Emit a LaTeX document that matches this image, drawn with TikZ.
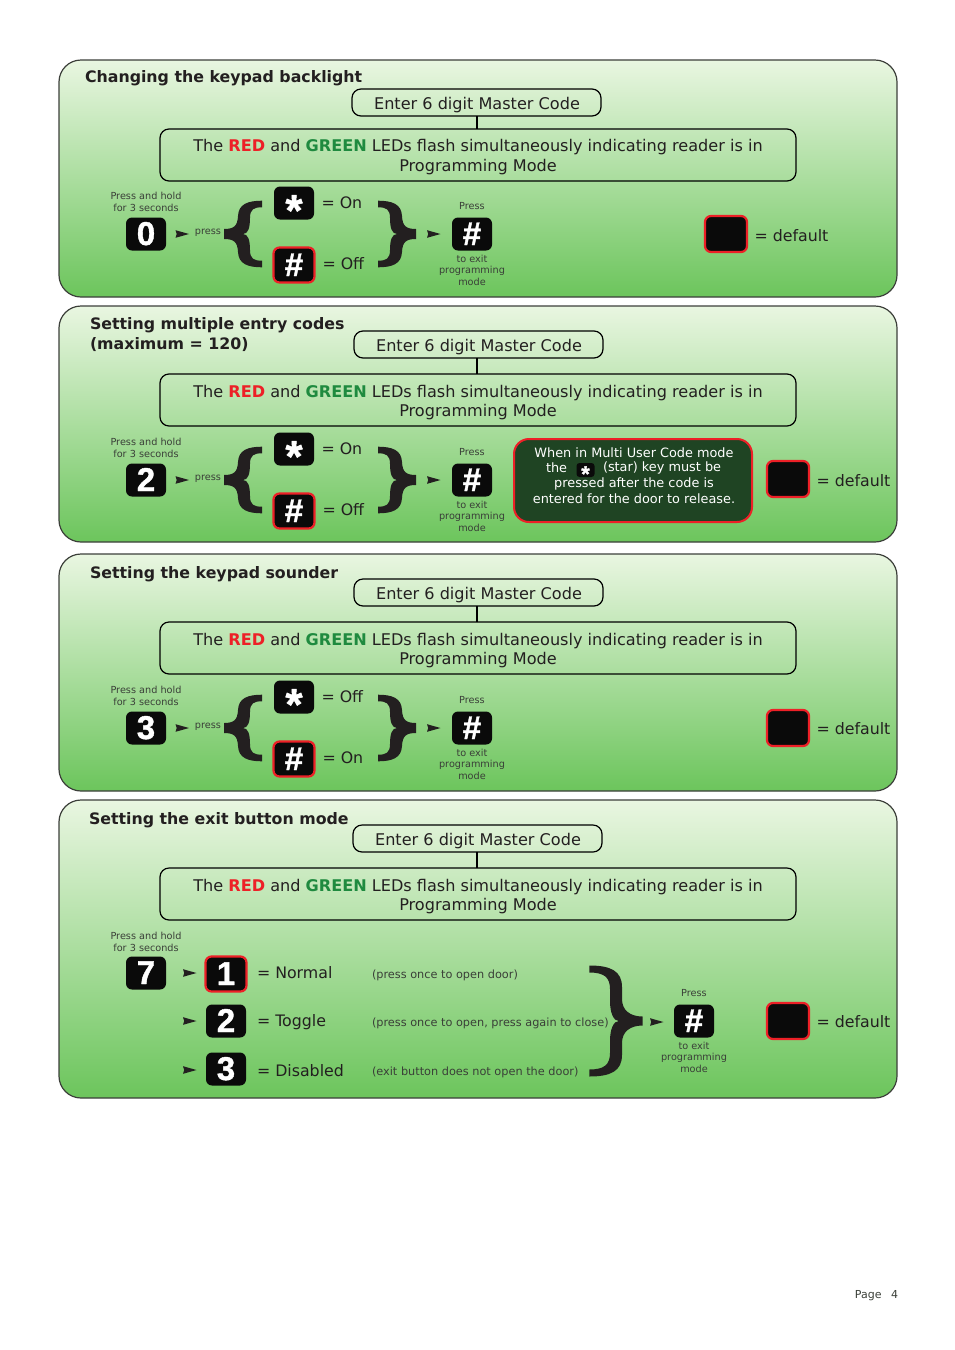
\documentclass[tikz,border=0pt]{standalone}
\usepackage{fontspec}
\setmainfont{DejaVu Sans}
\newfontfamily\keyfont[FakeBold=1.2]{Liberation Sans Bold}
\definecolor{ink}{HTML}{231F20}
\definecolor{soft}{HTML}{3A3F38}
\definecolor{redled}{HTML}{ED2027}
\definecolor{greenled}{HTML}{1F8A3F}
\definecolor{keyblack}{HTML}{0A0A0A}
\definecolor{notefill}{HTML}{1F4423}
\definecolor{rim}{HTML}{3C3F3A}
\definecolor{paneltop}{HTML}{E9F6E1}
\definecolor{panelbot}{HTML}{6CC55C}
\newcommand{\fsz}[1]{\fontsize{#1}{#1}\selectfont}
\tikzset{
  x=1pt,y=-1pt,outer sep=0pt,
  panelbox/.style={draw=rim,line width=1.2pt,rounded corners=22pt,top color=paneltop,bottom color=panelbot},
  flowbox/.style={draw=black,line width=1.2pt,rounded corners=9pt},
  keybox/.style={fill=keyblack,rounded corners=6pt,minimum width=40pt,minimum height=33pt,inner sep=0pt,text=white,font=\keyfont\fsz{33}},
  redkey/.style={keybox,draw=redled,line width=2.2pt,minimum width=41pt,minimum height=35pt},
  title/.style={anchor=west,inner sep=0pt,text=ink,font=\bfseries\fsz{15.8},align=left},
  body/.style={inner sep=0pt,text=ink,font=\fsz{16.1}},
  lab/.style={anchor=west,inner sep=0pt,text=ink,font=\fsz{15.8}},
  tiny/.style={inner sep=0pt,text=soft,font=\fsz{9.7}},
  note/.style={inner sep=0pt,text=soft,font=\fsz{11.3},anchor=west},
  notetext/.style={inner sep=0pt,text=white,font=\fsz{12.85}},
}
\newcommand{\keychar}[1]{\raisebox{-11pt}[0pt][0pt]{#1}}
\newcommand{\glyphstar}{\raisebox{-22.5pt}[0pt][0pt]{\fsz{44}*}}
\newcommand{\glyphhash}{\keychar{\#}}
\newcommand{\arrowmark}[2]{\fill[ink] (#1,#2-3.8) -- (#1+13.5,#2) -- (#1,#2+3.8) -- (#1+1.2,#2) -- cycle;}
\newcommand{\bracemark}[3]{% tip x, tip y, xscale
  \fill[ink,shift={(#1,#2)},xscale=#3] (38,-33.3) -- (38,-26.7) .. controls (30,-26.7) and (26,-25) .. (26,-16) .. controls (26,-6) and (24,0) .. (19,0) .. controls (24,0) and (26,6) .. (26,16) .. controls (26,25) and (30,26.7) .. (38,26.7) -- (38,33.3) .. controls (24,33.3) and (14.5,30) .. (14,18) .. controls (13.5,8) and (10,5) .. (0,5) -- (0,-5) .. controls (10,-5) and (13.5,-8) .. (14,-18) .. controls (14.5,-30) and (24,-33.3) .. (38,-33.3) -- cycle;}
\newcommand{\bigbracemark}[2]{% tip x, tip y; opens to the left
  \fill[ink,shift={(#1,#2)},xscale=-1] (53.4,-55.5) -- (53.4,-48.5) .. controls (39,-48.5) and (32.7,-44) .. (32.7,-32) -- (32.7,-20) .. controls (32.7,-8) and (29,0) .. (24,0) .. controls (29,0) and (32.7,8) .. (32.7,20) -- (32.7,32) .. controls (32.7,44) and (39,48.5) .. (53.4,48.5) -- (53.4,55.5) .. controls (32,55.5) and (20.7,50) .. (20.7,34) -- (20.7,22) .. controls (20.7,11) and (13,4.5) .. (0,4.5) -- (0,-4.5) .. controls (13,-4.5) and (20.7,-11) .. (20.7,-22) -- (20.7,-34) .. controls (20.7,-50) and (32,-55.5) .. (53.4,-55.5) -- cycle;}
\newcommand{\panelframe}[8]{%
  \node[panelbox,anchor=north west,minimum width=838pt,minimum height=#3pt-#2pt,inner sep=0pt] (#1panel) at (59,#2) {};
  \node[flowbox,anchor=north west,minimum width=249pt,minimum height=27pt,inner sep=0pt] (#1enter) at (#4,#5) {};
  \node[body] (#1entertext) at (#4+125,#5+16) {Enter 6 digit Master Code};
  \node[flowbox,anchor=north west,minimum width=636pt,minimum height=52pt,inner sep=0pt] (#1led) at (160,#6) {};
  \node[body] (#1ledone) at (478,#7+2.3) {The \textcolor{redled}{\textbf{RED}} and \textcolor{greenled}{\textbf{GREEN}} LEDs flash simultaneously indicating reader is in};
  \node[body] (#1ledtwo) at (478,#8+2.3) {Programming Mode};
  \draw[black,line width=1.4pt] (#1enter.south -| 477,0) -- (#1led.north -| 477,0);
}
\newcommand{\keyrow}[5]{%
  \node[tiny] (#1holda) at (146,196+#2) {Press and hold};
  \node[tiny] (#1holdb) at (146,208+#2) {for 3 seconds};
  \node[keybox] (#1digit) at (146,234+#2) {\keychar{#3}};
  \arrowmark{175.5}{234+#2}
  \node[tiny] (#1press) at (208,233+#2) {press};
  \bracemark{224}{234+#2}{1}
  \bracemark{416}{234+#2}{-1}
  \node[keybox] (#1star) at (294,203+#2) {\glyphstar};
  \node[redkey] (#1hash) at (294,265+#2) {\glyphhash};
  \node[lab] (#1starlab) at (321.5,203+#2) {= #4};
  \node[lab] (#1hashlab) at (322.5,264+#2) {= #5};
  \arrowmark{427}{234+#2}
  \exitgroup{#1}{472}{234+#2}
}
\newcommand{\exitgroup}[3]{%
  \node[tiny] (#1exa) at (#2,#3-28) {Press};
  \node[keybox] (#1exit) at (#2,#3) {\glyphhash};
  \node[tiny] (#1exb) at (#2,#3+25) {to exit};
  \node[tiny] (#1exc) at (#2,#3+37) {programming};
  \node[tiny] (#1exd) at (#2,#3+48) {mode};
}
\newcommand{\defaultmark}[4]{% prefix, x, y, label y
  \node[redkey,minimum width=42pt,minimum height=36pt] (#1def) at (#2,#3) {};
  \node[lab] (#1deflab) at (#2+28.5,#4) {= default};
}
\begin{document}
\begin{tikzpicture}
\useasboundingbox (0,0) rectangle (954,1350);
% Panel 1
\panelframe{a}{60}{297}{352}{89}{129}{145}{165}
\node[title] (atitle) at (85,78) {Changing the keypad backlight};
\keyrow{a}{0}{0}{On}{Off}
\defaultmark{a}{726}{234}{236}
% Panel 2
\panelframe{b}{306}{542}{354}{331}{374}{391}{410}
\node[title] (btitle) at (90,325) {Setting multiple entry codes};
\node[title] (btitleb) at (90,345) {(maximum = 120)};
\keyrow{b}{246}{2}{On}{Off}
\node[draw=redled,line width=2pt,fill=notefill,rounded corners=15pt,anchor=north west,minimum width=238pt,minimum height=83pt,inner sep=0pt] (bnote) at (514,439) {};
\node[notetext] (bnotea) at (634,453) {When in Multi User Code mode};
\node[notetext,anchor=west] (bnoteb) at (546,468) {the};
\node[keybox,minimum width=18pt,minimum height=14pt,rounded corners=3pt] (bnotestar) at (585.5,470) {\raisebox{-11.5pt}[0pt][0pt]{\fsz{22}*}};
\node[notetext,anchor=west] (bnotec) at (603,468) {(star) key must be};
\node[notetext] (bnoted) at (634,484) {pressed after the code is};
\node[notetext] (bnotee) at (634,499) {entered for the door to release.};
\defaultmark{b}{788}{479}{481}
% Panel 3
\panelframe{c}{554}{791}{354}{579}{622}{639}{658}
\node[title] (ctitle) at (90,574) {Setting the keypad sounder};
\keyrow{c}{494}{3}{Off}{On}
\defaultmark{c}{788}{728}{729}
% Panel 4
\panelframe{d}{800}{1098}{353}{825}{868}{885}{904}
\node[title] (dtitle) at (89,820) {Setting the exit button mode};
\node[tiny] (dholda) at (146,936) {Press and hold};
\node[tiny] (dholdb) at (146,948) {for 3 seconds};
\node[keybox] (dseven) at (146,973) {\keychar{7}};
\arrowmark{183}{973}
\arrowmark{183}{1021}
\arrowmark{183}{1070}
\node[redkey] (done) at (226,974) {\keychar{1}};
\node[keybox] (dtwo) at (226,1021) {\keychar{2}};
\node[keybox] (dthree) at (226,1069) {\keychar{3}};
\node[lab] (dlaba) at (257,973) {= Normal};
\node[lab] (dlabb) at (257,1022) {= Toggle};
\node[lab] (dlabc) at (257,1071) {= Disabled};
\node[note] (dnotea) at (372,975) {(press once to open door)};
\node[note] (dnoteb) at (372,1023) {(press once to open, press again to close)};
\node[note] (dnotec) at (372,1072) {(exit button does not open the door)};
\bigbracemark{642.7}{1021}
\arrowmark{650}{1022}
\exitgroup{d}{694}{1021}
\defaultmark{d}{788}{1021}{1022}
\node[inner sep=0pt,text=soft,font=\fsz{11},anchor=east] (pageno) at (898,1296) {Page\hspace{6pt} 4};
\end{tikzpicture}
\end{document}
